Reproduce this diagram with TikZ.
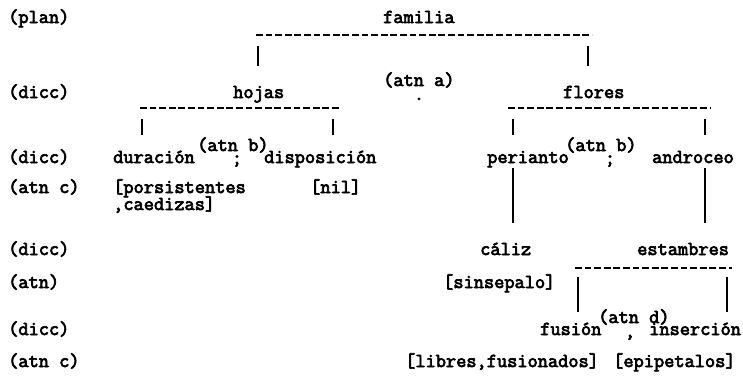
\documentclass[tikz,border=0pt]{standalone}
\usepackage{fontspec}
\newfontfamily\typer{Latin Modern Mono}[FakeBold=3.5]
\begin{document}
\begin{tikzpicture}[x=1pt,y=-1pt,
  txt/.style={anchor=base west, inner sep=0pt,
    font=\typer\fontsize{19.8}{20}\selectfont},
  sepchar/.style={anchor=base, inner sep=0pt,
    font=\typer\fontsize{19.8}{20}\selectfont},
  hbar/.style={line width=1.5pt, dash pattern=on 6.8pt off 2.8pt},
  vbar/.style={line width=1.3pt}]
\useasboundingbox (0,0) rectangle (743,383);

% level labels on the left
\node[txt] (l1) at (8,23)  {(plan)};
\node[txt] (l2) at (8,98)  {(dicc)};
\node[txt] (l3) at (8,163) {(dicc)};
\node[txt] (l4) at (8,193) {(atn c)};
\node[txt] (l5) at (8,255) {(dicc)};
\node[txt] (l6) at (8,288) {(atn)};
\node[txt] (l7) at (8,335) {(dicc)};
\node[txt] (l8) at (8,367) {(atn c)};

% root
\node[txt] (familia) at (383,23) {familia};
\coordinate (b1l) at (256,35);
\coordinate (b1r) at (592,35);
\draw[hbar] (b1l) -- (b1r);
\coordinate (t1a) at (258,46); \coordinate (t1b) at (258,66);
\coordinate (t1c) at (588,46); \coordinate (t1d) at (588,66);
\draw[vbar] (t1a) -- (t1b);
\draw[vbar] (t1c) -- (t1d);

% second level
\node[txt] (hojas)  at (233,98) {hojas};
\node[txt] (flores) at (563,98) {flores};
\node[txt] (atna)   at (383,86) {(atn a)};
\node[sepchar] (dota)  at (419,100) {.};

\coordinate (b2l) at (140,108); \coordinate (b2r) at (340,108);
\coordinate (b3l) at (508,108); \coordinate (b3r) at (710,108);
\draw[hbar] (b2l) -- (b2r);
\draw[hbar] (b3l) -- (b3r);
\foreach \x in {142,333,513,705}
  \draw[vbar] (\x,119) -- (\x,135);

% third level: hojas
\node[txt] (duracion)    at (113,163) {duración};
\node[txt] (atnb1)       at (197,151) {(atn b)};
\node[sepchar] (semi1)   at (237,164) {;};
\node[txt] (disposicion) at (264,163) {disposición};
\node[txt] (pers)  at (113,193) {[porsistentes};
\node[txt] (caed)  at (113,210) {,caedizas]};
\node[txt] (nil)   at (310,193) {[nil]};

% third level: flores
\node[txt] (perianto) at (487,163) {perianto};
\node[txt] (atnb2)    at (565,151) {(atn b)};
\node[sepchar] (semi2) at (610,164) {;};
\node[txt] (androceo) at (652,163) {androceo};

\coordinate (p1) at (513,168); \coordinate (p2) at (513,223);
\coordinate (a1) at (705,168); \coordinate (a2) at (705,223);
\draw[vbar] (p1) -- (p2);
\draw[vbar] (a1) -- (a2);

% fourth level
\node[txt] (caliz)     at (480,255) {cáliz};
\node[txt] (estambres) at (637,255) {estambres};
\coordinate (b4l) at (575,268); \coordinate (b4r) at (732,268);
\draw[hbar] (b4l) -- (b4r);
\node[txt] (sinsep) at (443,288) {[sinsepalo]};
\coordinate (s1) at (578,277); \coordinate (s2) at (578,312);
\coordinate (s3) at (727,277); \coordinate (s4) at (727,312);
\draw[vbar] (s1) -- (s2);
\draw[vbar] (s3) -- (s4);

% fifth level: estambres
\node[txt] (fusion)    at (540,335) {fusión};
\node[txt] (atnd)      at (598,323) {(atn d)};
\node[sepchar] (comma) at (630,337) {,};
\node[txt] (insercion) at (649,335) {inserción};
\node[txt] (libres)    at (405,367) {[libres,fusionados]};
\node[txt] (epip)      at (613,367) {[epipetalos]};
\end{tikzpicture}
\end{document}
